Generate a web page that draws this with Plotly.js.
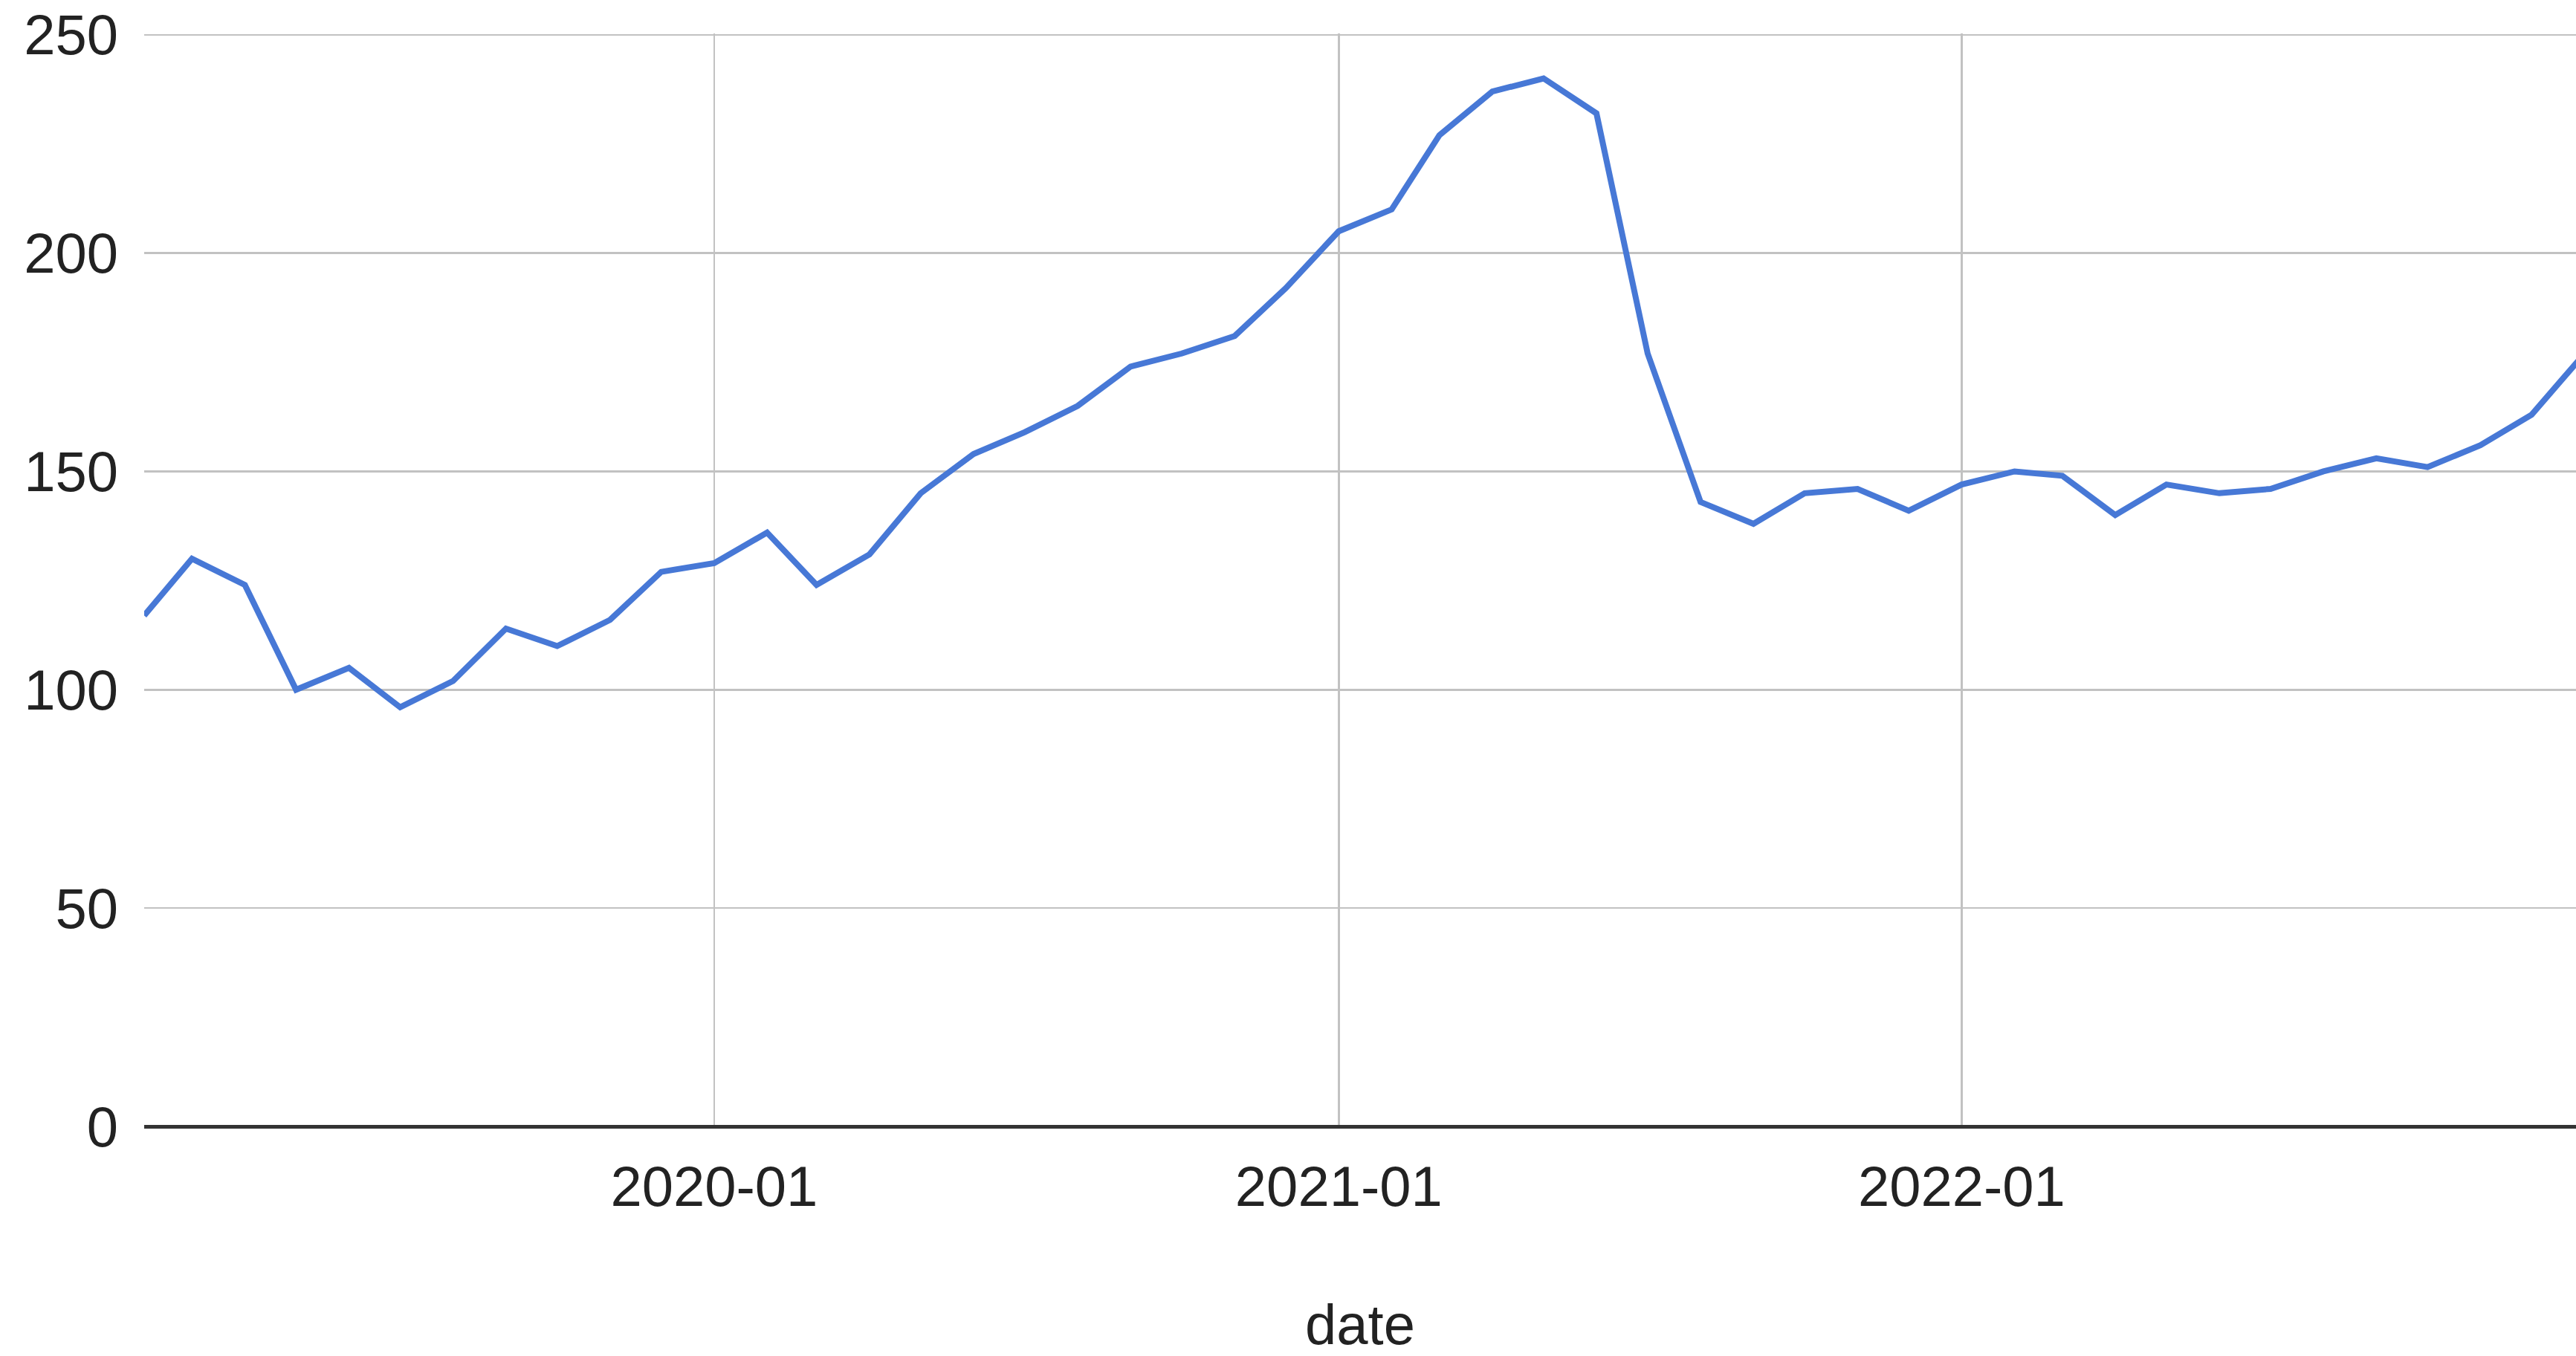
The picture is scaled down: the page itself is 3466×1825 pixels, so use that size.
<!DOCTYPE html>
<html>
<head>
<meta charset="utf-8">
<script src="https://cdn.plot.ly/plotly-3.0.1.min.js"></script>
<style>
  html, body { margin: 0; padding: 0; background: #ffffff; overflow: hidden; }
  #chart { width: 3466px; height: 1825px; }
</style>
</head>
<body>
<div id="chart"></div>
<script>
// Monthly series
const dates = [
  '2019-02-01', '2019-03-01', '2019-04-01', '2019-05-01', '2019-06-01', '2019-07-01',
  '2019-08-01', '2019-09-01', '2019-10-01', '2019-11-01', '2019-12-01',
  '2020-01-01', '2020-02-01', '2020-03-01', '2020-04-01', '2020-05-01', '2020-06-01',
  '2020-07-01', '2020-08-01', '2020-09-01', '2020-10-01', '2020-11-01', '2020-12-01',
  '2021-01-01', '2021-02-01', '2021-03-01', '2021-04-01', '2021-05-01', '2021-06-01',
  '2021-07-01', '2021-08-01', '2021-09-01', '2021-10-01', '2021-11-01', '2021-12-01',
  '2022-01-01', '2022-02-01', '2022-03-01', '2022-04-01', '2022-05-01', '2022-06-01',
  '2022-07-01', '2022-08-01', '2022-09-01', '2022-10-01', '2022-11-01', '2022-12-01',
  '2023-01-01'
];

const values = [
  117, 130, 124, 100, 105, 96,
  102, 114, 110, 116, 127,
  129, 136, 124, 131, 145, 154,
  159, 165, 174, 177, 181, 192,
  205, 210, 227, 237, 240, 232,
  177, 143, 138, 145, 146, 141,
  147, 150, 149, 140, 147, 145,
  146, 150, 153, 151, 156, 163,
  177
];

const yTicks = [0, 50, 100, 150, 200, 250];
const xTitle = 'date';

const font = 'Liberation Sans, Arial, sans-serif';

const trace = {
  x: dates,
  y: values,
  type: 'scatter',
  mode: 'lines',
  line: { color: '#4778d6', width: 8 },
  hoverinfo: 'x+y'
};

const layout = {
  width: 3466,
  height: 1825,
  margin: { l: 194, r: 0, t: 45, b: 309 },
  paper_bgcolor: '#ffffff',
  plot_bgcolor: '#ffffff',
  showlegend: false,
  font: { family: font, size: 76, color: '#222222' },
  xaxis: {
    type: 'date',
    range: ['2019-02-01', '2022-12-27'],
    tick0: '2020-01-01',
    dtick: 'M12',
    tickformat: '%Y-%m',
    showgrid: true,
    gridcolor: '#c2c2c2',
    gridwidth: 2.5,
    zeroline: false,
    showline: false,
    ticks: '',
    ticklabelstandoff: 30,
    tickfont: { family: font, size: 76, color: '#222222' },
    title: { text: xTitle, standoff: 122, font: { family: font, size: 76, color: '#222222' } },
    automargin: false,
    fixedrange: true
  },
  yaxis: {
    range: [0, 250.3],
    tickvals: yTicks,
    showgrid: true,
    gridcolor: '#c2c2c2',
    gridwidth: 2.5,
    zeroline: true,
    zerolinecolor: '#333333',
    zerolinewidth: 5,
    showline: false,
    ticks: '',
    ticklabelstandoff: 34,
    tickfont: { family: font, size: 76, color: '#222222' },
    automargin: false,
    fixedrange: true
  }
};

Plotly.newPlot('chart', [trace], layout, { staticPlot: true, displayModeBar: false });
</script>
</body>
</html>
